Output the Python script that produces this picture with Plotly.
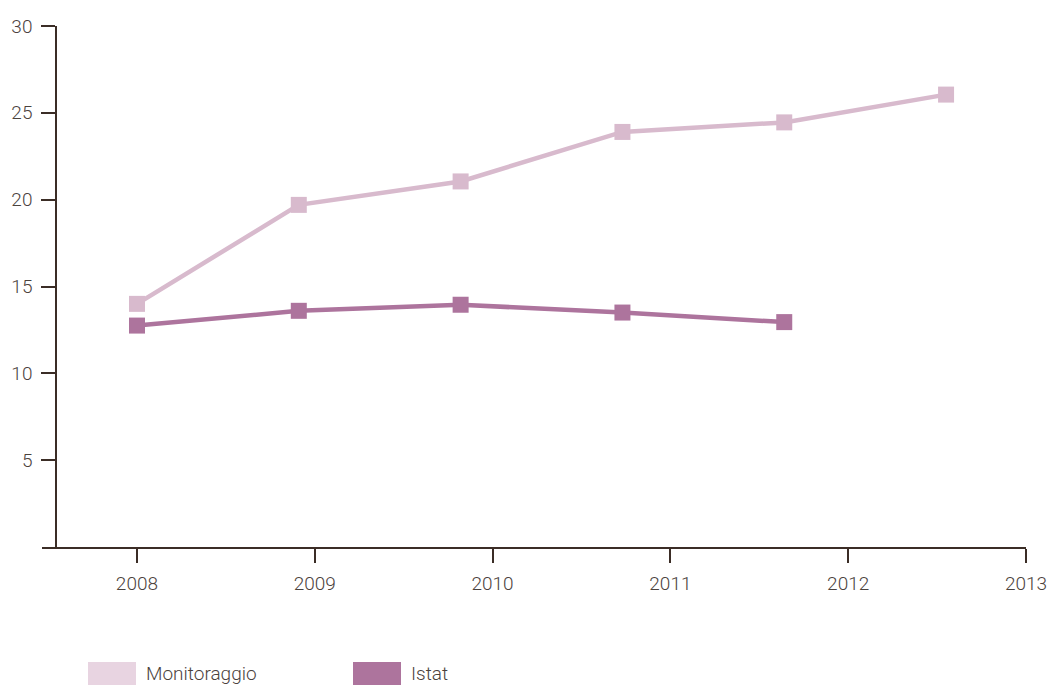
import plotly.graph_objects as go

# data
anni = [2008, 2009, 2010, 2011, 2012, 2013]
monitoraggio = [14.0, 19.7, 21.05, 23.9, 24.45, 26.05]
istat = [12.75, 13.6, 13.95, 13.5, 12.95]
serie_nomi = ["Monitoraggio", "Istat"]
y_ticks = [5, 10, 15, 20, 25, 30]

COL_MON = "#d8bacd"
COL_MON_LEG = "#e8d4e1"
COL_IST = "#ad749d"
AX_COL = "#3b2d26"
TXT_COL = "#4b423d"
FONT = "Roboto"

W, H = 1048, 687
ML, MR, MT, MB = 42, 22, 26, 140
PW, PH = W - ML - MR, H - MT - MB


def px_x(x):
    """screen x (reference pixels) -> paper fraction"""
    return (x - ML) / PW


def px_y(y):
    """screen y (reference pixels) -> paper fraction"""
    return (H - MB - y) / PH


tick_font = {"family": FONT, "size": 19, "color": TXT_COL, "weight": 300}

fig = go.Figure()
# empty trace so that the visible year axis gets drawn
fig.add_trace(go.Scatter(x=[], y=[], showlegend=False, hoverinfo="skip"))
for nome, valori, col in [(serie_nomi[0], monitoraggio, COL_MON), (serie_nomi[1], istat, COL_IST)]:
    fig.add_trace(go.Scatter(
        x=anni[:len(valori)], y=valori, mode="lines+markers", name=nome,
        line={"color": col, "width": 4.5},
        marker={"symbol": "square", "size": 16, "color": col},
        xaxis="x2", showlegend=False,
    ))

fig.update_layout(
    width=W, height=H,
    margin={"l": ML, "r": MR, "t": MT, "b": MB, "autoexpand": False},
    paper_bgcolor="white", plot_bgcolor="white",
    font=tick_font,
    # visible year axis (ticks)
    xaxis={
        "range": [2007.466, 2013.0], "tickvals": anni, "ticktext": [str(a) for a in anni],
        "showgrid": False, "zeroline": False, "showline": True, "linecolor": AX_COL,
        "linewidth": 1.5, "ticks": "outside", "ticklen": 14, "tickcolor": AX_COL,
        "tickwidth": 1.5, "tickfont": tick_font, "automargin": False,
        "ticklabelstandoff": 4,
    },
    # data axis (points are spaced slightly tighter than the ticks in the original)
    xaxis2={
        "range": [2007.413, 2013.494], "overlaying": "x", "visible": False,
    },
    yaxis={
        "range": [0, 30], "tickvals": y_ticks, "showgrid": False, "zeroline": False,
        "showline": True, "linecolor": AX_COL, "linewidth": 1.5,
        "ticks": "outside", "ticklen": 14, "tickcolor": AX_COL, "tickwidth": 1.5,
        "anchor": "free", "position": px_x(56), "automargin": False,
        "tickfont": tick_font, "ticklabelstandoff": 5,
    },
)

# legend drawn by hand: large rectangular swatches under the chart
leg = [(serie_nomi[0], COL_MON_LEG, 88), (serie_nomi[1], COL_IST, 353)]
for nome, col, x0 in leg:
    fig.add_shape(type="rect", xref="paper", yref="paper",
                  x0=px_x(x0), x1=px_x(x0 + 48),
                  y0=px_y(662), y1=px_y(685),
                  fillcolor=col, line={"width": 0})
    fig.add_annotation(text=nome, xref="paper", yref="paper",
                       x=px_x(x0 + 56), y=px_y(673.5),
                       xanchor="left", yanchor="middle", showarrow=False,
                       font=tick_font)

# drop the default body margin so the figure fills the window exactly
fig.write_html(
    "out.html",
    config={"displayModeBar": False},
    post_script="document.body.style.margin='0';document.body.style.overflow='hidden';",
)
